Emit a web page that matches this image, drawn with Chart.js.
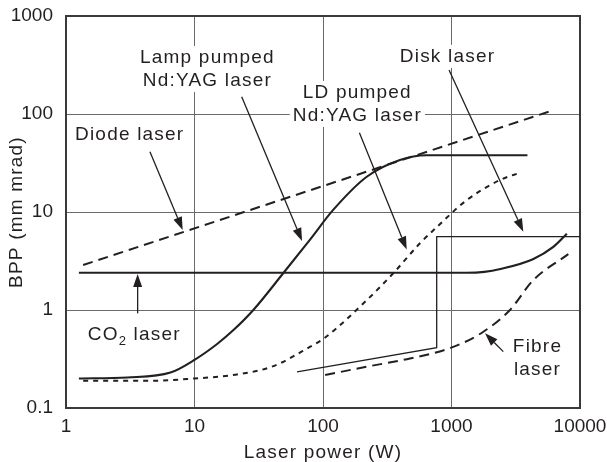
<!DOCTYPE html>
<html>
<head>
<meta charset="utf-8">
<script src="https://cdn.jsdelivr.net/npm/chart.js@4/dist/chart.umd.min.js"></script>
<style>
  html, body { margin: 0; padding: 0; background: #fff; }
  #wrap { width: 607px; height: 462px; }
</style>
</head>
<body>
<div id="wrap"><canvas id="bpp-chart" width="607" height="462"></canvas></div>
<script>
const xTicks = [1, 10, 100, 1000, 10000];
const yTicks = [0.1, 1, 10, 100, 1000];

// laser power (W) / beam parameter product (mm mrad)
const diodePower = [1.36, 5900];
const diodeBpp = [2.88, 107];

const co2Power = [1.26, 100, 1300, 1800, 2400, 4300, 6200, 7900];
const co2Bpp = [2.4, 2.4, 2.4, 2.45, 2.62, 3.3, 4.4, 6.0];

const lampPower = [1.26, 3, 6.5, 10, 15, 20, 28.7, 49, 79, 120, 219, 397, 640, 3900];
const lampBpp = [0.2, 0.205, 0.23, 0.31, 0.45, 0.62, 1.0, 2.37, 5.2, 10.5, 22.9, 34, 37.9, 37.9];

const ldPower = [1.36, 5, 10, 20, 40, 79, 102, 219, 352, 569, 767, 1313, 2385, 3413];
const ldBpp = [0.19, 0.19, 0.2, 0.217, 0.264, 0.42, 0.514, 1.26, 2.37, 4.8, 7.0, 13.2, 21.2, 25.2];

const diskPower = [62.8, 767, 767, 10000];
const diskBpp = [0.234, 0.412, 5.6, 5.6];

const fibrePower = [104, 219, 475, 1033, 1770, 2850, 4330, 8110];
const fibreBpp = [0.217, 0.264, 0.32, 0.42, 0.6, 1.0, 2.02, 3.72];

// labels with their pointer arrows, all in data units
const notes = [
  { lines: ['Lamp pumped', 'Nd:YAG laser'], at: [12.6, 331], from: [23.3, 150], to: [68.7, 5.06] },
  { lines: ['LD pumped', 'Nd:YAG laser'], at: [185, 146], from: [192, 64.4], to: [448, 4.14] },
  { lines: ['Disk laser'], at: [931, 340], from: [957, 281], to: [3620, 6.3] },
  { lines: ['Diode laser'], at: [3.13, 54.3], from: [4.5, 41.2], to: [8.09, 6.55] },
  { lines: ['CO2 laser'], at: [3.4, 0.494], from: [3.61, 0.925], to: [3.61, 2.33], co2: true },
  { lines: ['Fibre', 'laser'], at: [4670, 0.373], from: [2530, 0.376], to: [1823, 0.578] }
];

const ink = '#231f20';
const font = '19px "Liberation Sans", Arial, sans-serif';

function pairs(xs, ys) {
  return xs.map((x, i) => ({ x: x, y: ys[i] }));
}

function series(data, dash, width, smooth) {
  return {
    data: data,
    borderColor: ink,
    borderWidth: width,
    borderDash: dash,
    pointRadius: 0,
    fill: false,
    tension: 0,
    cubicInterpolationMode: smooth ? 'monotone' : 'default'
  };
}

function drawArrow(ctx, x1, y1, x2, y2) {
  const ang = Math.atan2(y2 - y1, x2 - x1);
  const len = 13, half = 4.5;
  const bx = x2 - len * Math.cos(ang), by = y2 - len * Math.sin(ang);
  ctx.beginPath();
  ctx.moveTo(x1, y1);
  ctx.lineTo(bx, by);
  ctx.stroke();
  ctx.beginPath();
  ctx.moveTo(x2, y2);
  ctx.lineTo(bx + half * Math.sin(ang), by - half * Math.cos(ang));
  ctx.lineTo(bx - half * Math.sin(ang), by + half * Math.cos(ang));
  ctx.closePath();
  ctx.fill();
}

// keep the plot box fixed: no extra room for half tick labels
function noPadding(s) {
  s.paddingLeft = 0;
  s.paddingRight = 0;
  s.paddingTop = 0;
  s.paddingBottom = 0;
}

const overlay = {
  id: 'overlay',
  beforeDatasetsDraw(chart) {
    const { ctx, chartArea: a, scales: { x, y } } = chart;
    ctx.save();
    ctx.strokeStyle = '#3a3a3a';
    ctx.lineWidth = 2;
    ctx.strokeRect(a.left, a.top, a.width, a.height);

    ctx.font = font;
    ctx.letterSpacing = '1.2px';
    ctx.textBaseline = 'alphabetic';
    const lineGap = 23;
    notes.forEach(n => {
      const cx = x.getPixelForValue(n.at[0]);
      const base = y.getPixelForValue(n.at[1]);
      let widths;
      if (n.co2) {
        ctx.font = font;
        const wCO = ctx.measureText('CO').width;
        const wRest = ctx.measureText(' laser').width;
        ctx.font = '13px "Liberation Sans", Arial, sans-serif';
        const w2 = ctx.measureText('2').width;
        widths = [wCO + w2 + wRest];
        ctx.font = font;
      } else {
        widths = n.lines.map(t => ctx.measureText(t).width);
      }
      const wMax = Math.max(...widths);
      ctx.fillStyle = '#fff';
      ctx.fillRect(cx - wMax / 2 - 3, base - 17, wMax + 6, (n.lines.length - 1) * lineGap + 23);
      ctx.fillStyle = ink;
      if (n.co2) {
        let px = cx - widths[0] / 2;
        ctx.textAlign = 'left';
        ctx.fillText('CO', px, base);
        px += ctx.measureText('CO').width;
        ctx.font = '13px "Liberation Sans", Arial, sans-serif';
        ctx.fillText('2', px, base + 5);
        px += ctx.measureText('2').width;
        ctx.font = font;
        ctx.fillText(' laser', px, base);
      } else {
        ctx.textAlign = 'center';
        n.lines.forEach((t, i) => ctx.fillText(t, cx, base + i * lineGap));
      }
    });
    ctx.restore();
  },
  afterDatasetsDraw(chart) {
    const { ctx, scales: { x, y } } = chart;
    ctx.save();
    ctx.strokeStyle = ink;
    ctx.fillStyle = ink;
    ctx.lineWidth = 1.3;
    notes.forEach(n => {
      drawArrow(ctx,
        x.getPixelForValue(n.from[0]), y.getPixelForValue(n.from[1]),
        x.getPixelForValue(n.to[0]), y.getPixelForValue(n.to[1]));
    });
    ctx.restore();
  },
  afterDraw(chart) {
    const { ctx, chartArea: a } = chart;
    ctx.save();
    ctx.font = font;
    ctx.letterSpacing = '1.2px';
    ctx.fillStyle = ink;
    ctx.textAlign = 'center';
    ctx.textBaseline = 'alphabetic';
    ctx.fillText('Laser power (W)', (a.left + a.right) / 2, 458);
    ctx.translate(22, (a.top + a.bottom) / 2);
    ctx.rotate(-Math.PI / 2);
    ctx.fillText('BPP (mm mrad)', 0, 0);
    ctx.restore();
  }
};

const tickFont = { family: '"Liberation Sans", Arial, sans-serif', size: 19 };
const gridColor = '#6a6a6a';

new Chart(document.getElementById('bpp-chart'), {
  type: 'line',
  data: {
    datasets: [
      series(pairs(diodePower, diodeBpp), [10, 6], 2, false),
      series(pairs(co2Power, co2Bpp), [], 2.2, true),
      series(pairs(lampPower, lampBpp), [], 2.1, true),
      series(pairs(ldPower, ldBpp), [5, 5], 2, true),
      series(pairs(diskPower, diskBpp), [], 1.3, false),
      series(pairs(fibrePower, fibreBpp), [10, 6], 2, true)
    ]
  },
  options: {
    responsive: false,
    animation: false,
    layout: { padding: { left: 0, right: 27, top: 16, bottom: 0 } },
    plugins: { legend: { display: false }, tooltip: { enabled: false } },
    scales: {
      x: {
        type: 'logarithmic',
        min: 1,
        max: 10000,
        afterBuildTicks: s => { s.ticks = xTicks.map(v => ({ value: v })); },
        afterFit: s => { s.height = 54; noPadding(s); },
        ticks: { font: tickFont, color: ink, padding: 7, maxRotation: 0, autoSkip: false, callback: v => String(v) },
        grid: { color: gridColor, lineWidth: 1, drawTicks: false },
        border: { display: false }
      },
      y: {
        type: 'logarithmic',
        min: 0.1,
        max: 1000,
        afterBuildTicks: s => { s.ticks = yTicks.map(v => ({ value: v })); },
        afterFit: s => { s.width = 66; noPadding(s); },
        ticks: { font: tickFont, color: ink, padding: 13, autoSkip: false, callback: v => String(v) },
        grid: { color: gridColor, lineWidth: 1, drawTicks: false },
        border: { display: false }
      }
    }
  },
  plugins: [overlay]
});
</script>
</body>
</html>
